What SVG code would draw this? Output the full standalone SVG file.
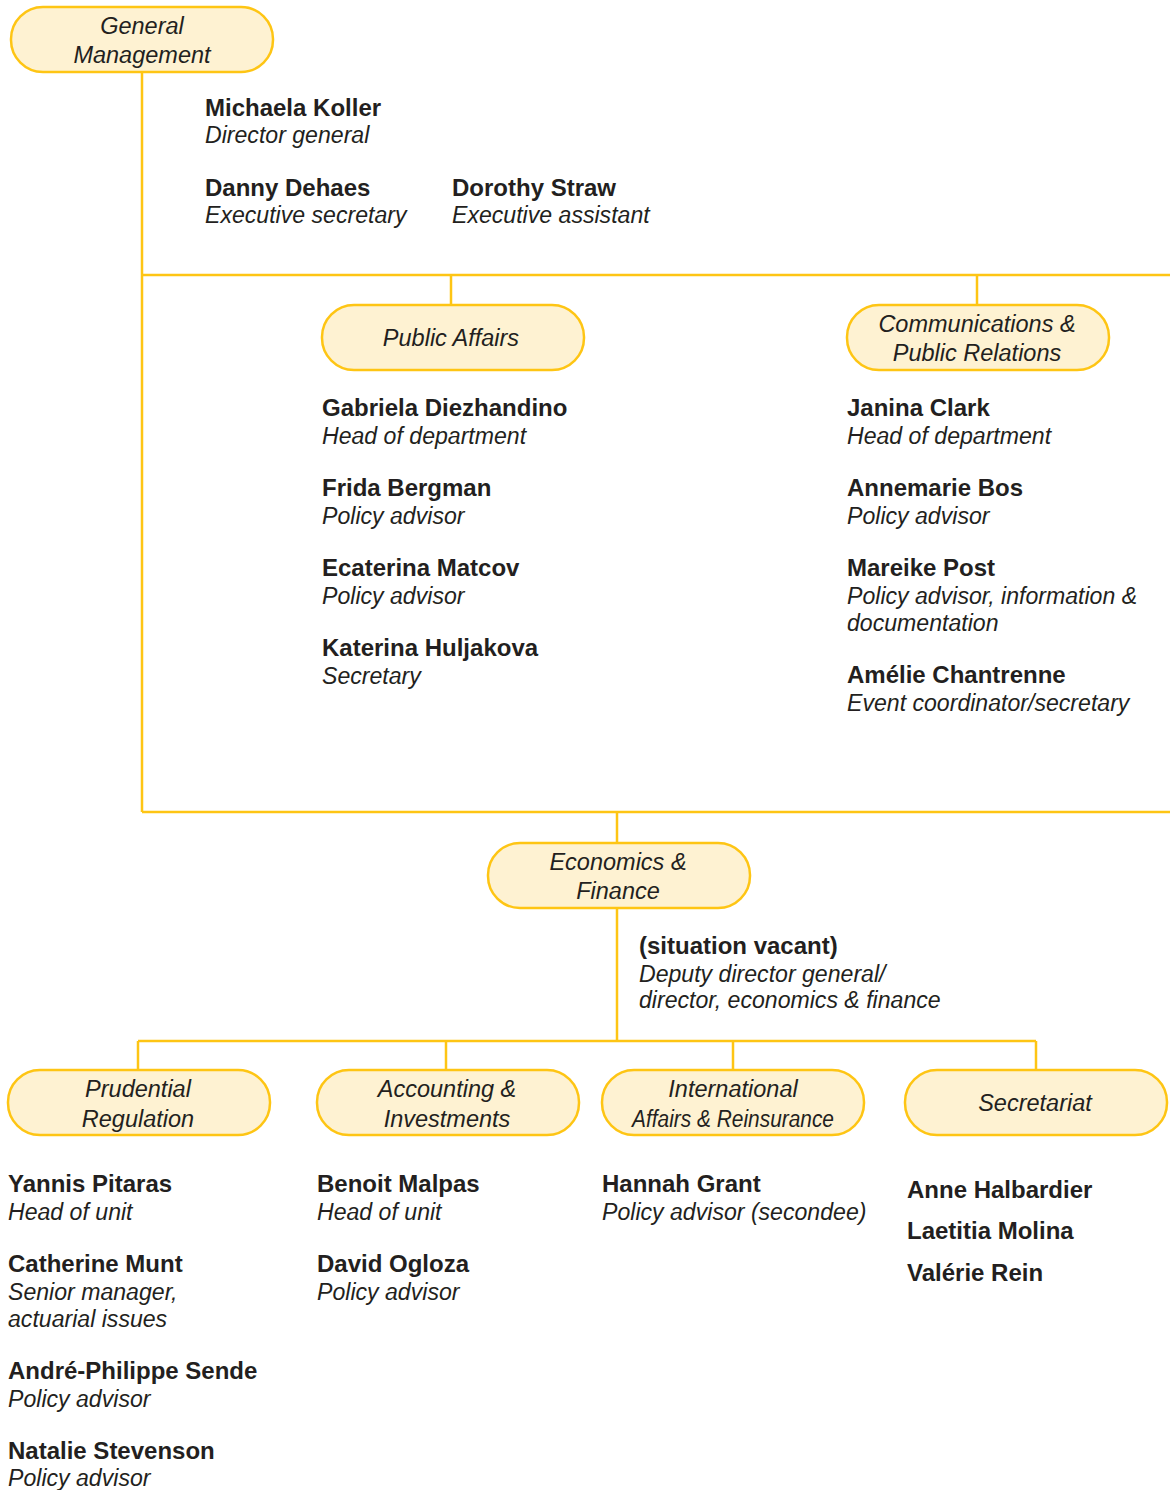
<svg xmlns="http://www.w3.org/2000/svg" width="1170" height="1490" viewBox="0 0 1170 1490">
<style>
.box{fill:#fef2d2;stroke:#fec514;stroke-width:2.5}
.ln{fill:none;stroke:#fec514;stroke-width:2.5}
text{font-family:"Liberation Sans",Arial,sans-serif;fill:#231f20;font-size:23.5px}
.t{font-style:italic;text-anchor:middle}
.n{font-weight:700;font-size:24px}
.r{font-style:italic;font-size:23.1px}
</style>
<rect width="1170" height="1490" fill="#fff"/>
<g id="connectors">
<path class="ln" d="M142 72V812M142 275H1170M142 812H1170M451 275V305M977 275V305M617 812V843M617 908V1041M138 1041H1036M138 1041V1070M446 1041V1070M733 1041V1070M1036 1041V1070"/>
</g>
<g id="gm"><rect class="box" x="11" y="7" width="262" height="65" rx="32"/><text class="t" x="142" y="34">General</text><text class="t" x="142" y="63">Management</text></g>
<g id="gm-staff">
<text class="n" x="205" y="116">Michaela Koller</text><text class="r" x="205" y="143">Director general</text>
<text class="n" x="205" y="196">Danny Dehaes</text><text class="r" x="205" y="223">Executive secretary</text>
<text class="n" x="452" y="196">Dorothy Straw</text><text class="r" x="452" y="223">Executive assistant</text>
</g>
<g id="pa"><rect class="box" x="322" y="305" width="262" height="65" rx="32"/><text class="t" x="451" y="346">Public Affairs</text></g>
<g id="pa-staff">
<text class="n" x="322" y="416">Gabriela Diezhandino</text><text class="r" x="322" y="444">Head of department</text>
<text class="n" x="322" y="496">Frida Bergman</text><text class="r" x="322" y="524">Policy advisor</text>
<text class="n" x="322" y="576">Ecaterina Matcov</text><text class="r" x="322" y="604">Policy advisor</text>
<text class="n" x="322" y="656">Katerina Huljakova</text><text class="r" x="322" y="684">Secretary</text>
</g>
<g id="cpr"><rect class="box" x="847" y="305" width="262" height="65" rx="32"/><text class="t" x="977" y="332">Communications &amp;</text><text class="t" x="977" y="361">Public Relations</text></g>
<g id="cpr-staff">
<text class="n" x="847" y="416">Janina Clark</text><text class="r" x="847" y="444">Head of department</text>
<text class="n" x="847" y="496">Annemarie Bos</text><text class="r" x="847" y="524">Policy advisor</text>
<text class="n" x="847" y="576">Mareike Post</text><text class="r" x="847" y="604">Policy advisor, information &amp;</text><text class="r" x="847" y="631">documentation</text>
<text class="n" x="847" y="683">Amélie Chantrenne</text><text class="r" x="847" y="711">Event coordinator/secretary</text>
</g>
<g id="ef"><rect class="box" x="488" y="843" width="262" height="65" rx="32"/><text class="t" x="618" y="870">Economics &amp;</text><text class="t" x="618" y="899">Finance</text></g>
<g id="ef-staff">
<text class="n" x="639" y="954">(situation vacant)</text><text class="r" x="639" y="982">Deputy director general/</text><text class="r" x="639" y="1008">director, economics &amp; finance</text>
</g>
<g id="pr"><rect class="box" x="8" y="1070" width="262" height="65" rx="32"/><text class="t" x="138" y="1097">Prudential</text><text class="t" x="138" y="1127">Regulation</text></g>
<g id="pr-staff">
<text class="n" x="8" y="1192">Yannis Pitaras</text><text class="r" x="8" y="1220">Head of unit</text>
<text class="n" x="8" y="1272">Catherine Munt</text><text class="r" x="8" y="1300">Senior manager,</text><text class="r" x="8" y="1327">actuarial issues</text>
<text class="n" x="8" y="1379">André-Philippe Sende</text><text class="r" x="8" y="1407">Policy advisor</text>
<text class="n" x="8" y="1459">Natalie Stevenson</text><text class="r" x="8" y="1486">Policy advisor</text>
</g>
<g id="ai"><rect class="box" x="317" y="1070" width="262" height="65" rx="32"/><text class="t" x="447" y="1097">Accounting &amp;</text><text class="t" x="447" y="1127">Investments</text></g>
<g id="ai-staff">
<text class="n" x="317" y="1192">Benoit Malpas</text><text class="r" x="317" y="1220">Head of unit</text>
<text class="n" x="317" y="1272">David Ogloza</text><text class="r" x="317" y="1300">Policy advisor</text>
</g>
<g id="iar"><rect class="box" x="602" y="1070" width="262" height="65" rx="32"/><text class="t" x="733" y="1097">International</text><text class="t" x="733" y="1127" textLength="202" lengthAdjust="spacingAndGlyphs">Affairs &amp; Reinsurance</text></g>
<g id="iar-staff">
<text class="n" x="602" y="1192">Hannah Grant</text><text class="r" x="602" y="1220">Policy advisor (secondee)</text>
</g>
<g id="sec"><rect class="box" x="905" y="1070" width="262" height="65" rx="32"/><text class="t" x="1035" y="1111">Secretariat</text></g>
<g id="sec-staff">
<text class="n" x="907" y="1198">Anne Halbardier</text>
<text class="n" x="907" y="1239">Laetitia Molina</text>
<text class="n" x="907" y="1281">Valérie Rein</text>
</g>
</svg>
